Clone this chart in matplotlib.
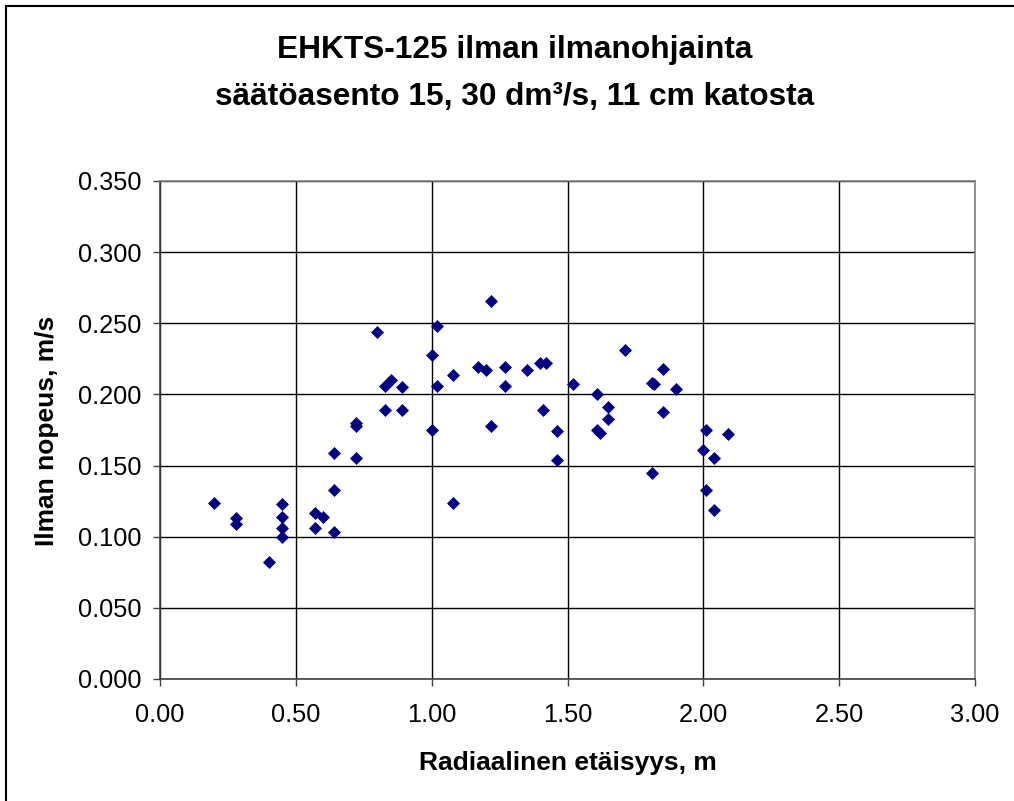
import matplotlib
matplotlib.use("Agg")
import matplotlib.pyplot as plt
from matplotlib.lines import Line2D

plt.rcParams['font.family'] = ['Liberation Sans', 'DejaVu Sans']

# Data
distance_m = [0.20, 0.28, 0.28, 0.40, 0.45, 0.45, 0.45, 0.45, 0.57, 0.57,
              0.60, 0.64, 0.64, 0.64, 0.72, 0.72, 0.72, 0.80, 0.83, 0.85,
              0.83, 0.89, 0.89, 1.00, 1.00, 1.02, 1.02, 1.08, 1.08, 1.17,
              1.20, 1.22, 1.22, 1.27, 1.27, 1.35, 1.40, 1.42, 1.41, 1.46,
              1.46, 1.52, 1.61, 1.61, 1.62, 1.65, 1.65, 1.71, 1.81, 1.82,
              1.81, 1.85, 1.85, 1.90, 2.00, 2.01, 2.01, 2.04, 2.04, 2.09]
speed_ms = [0.124, 0.113, 0.109, 0.082, 0.123, 0.114, 0.106, 0.100, 0.117, 0.106,
            0.114, 0.103, 0.133, 0.159, 0.155, 0.180, 0.178, 0.244, 0.206, 0.210,
            0.189, 0.205, 0.189, 0.228, 0.175, 0.248, 0.206, 0.214, 0.124, 0.219,
            0.217, 0.266, 0.178, 0.219, 0.206, 0.217, 0.222, 0.222, 0.189, 0.174,
            0.154, 0.207, 0.200, 0.175, 0.173, 0.191, 0.183, 0.231, 0.208, 0.207,
            0.145, 0.218, 0.188, 0.204, 0.161, 0.175, 0.133, 0.155, 0.119, 0.172]

x_ticks = [0.0, 0.5, 1.0, 1.5, 2.0, 2.5, 3.0]
y_ticks = [0.0, 0.05, 0.10, 0.15, 0.20, 0.25, 0.30, 0.35]

title_line1 = "EHKTS-125 ilman ilmanohjainta"
title_line2 = "säätöasento 15, 30 dm³/s, 11 cm katosta"
x_label = "Radiaalinen etäisyys, m"
y_label = "Ilman nopeus, m/s"

W, H = 1014, 801
fig = plt.figure(figsize=(W / 100, H / 100), dpi=100)
fig.patch.set_facecolor('white')

# Outer chart border (top and left visible)
fig.add_artist(Line2D([6 / W, 6 / W], [0, 1 - 6 / H], transform=fig.transFigure,
                      color='black', lw=1.5))
fig.add_artist(Line2D([6 / W, 1], [1 - 6 / H, 1 - 6 / H], transform=fig.transFigure,
                      color='black', lw=1.5))

ax = fig.add_axes([160 / W, (H - 679) / H, 815 / W, 498 / H])
ax.set_xlim(0, 3.0)
ax.set_ylim(0, 0.35)
ax.set_xticks(x_ticks)
ax.set_yticks(y_ticks)
ax.set_xticklabels([f"{v:.2f}" for v in x_ticks])
ax.set_yticklabels([f"{v:.3f}" for v in y_ticks])
ax.grid(True, color='black', linewidth=1.0)
ax.set_axisbelow(True)

for side in ['top', 'right']:
    ax.spines[side].set_color('#808080')
    ax.spines[side].set_linewidth(1.2)
for side in ['left', 'bottom']:
    ax.spines[side].set_color('#404040')
    ax.spines[side].set_linewidth(1.2)

ax.tick_params(axis='both', direction='out', length=5, width=1.0, color='#404040',
               labelsize=18.3, labelcolor='black')
ax.tick_params(axis='x', pad=12)
ax.tick_params(axis='y', pad=8.5)

ax.plot(distance_m, speed_ms, linestyle='none', marker='D', markersize=6.4,
        markerfacecolor='#000080', markeredgecolor='#000080', markeredgewidth=0.5,
        zorder=3, clip_on=False)

fig.text(514.5 / W, 1 - 50 / H, title_line1, ha='center', va='center',
         fontsize=22.8, fontweight='bold')
fig.text(514.5 / W, 1 - 97 / H, title_line2, ha='center', va='center',
         fontsize=22.8, fontweight='bold')
fig.text(568 / W, 1 - 763 / H, x_label, ha='center', va='center',
         fontsize=19, fontweight='bold')
fig.text(47 / W, 1 - 431 / H, y_label, ha='center', va='center',
         fontsize=19, fontweight='bold', rotation=90)

fig.savefig("out.png", dpi=100, facecolor='white')
